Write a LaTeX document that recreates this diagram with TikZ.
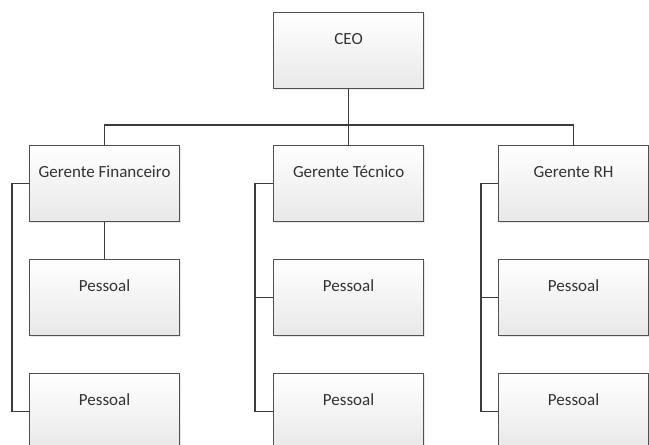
\documentclass[tikz,border=0pt]{standalone}
\usepackage{fontspec}
\setmainfont{Carlito}
\usetikzlibrary{shadows}
\definecolor{edge}{HTML}{505050}
\definecolor{wire}{HTML}{3C3C3C}
\definecolor{ink}{HTML}{333333}
\begin{document}
\begin{tikzpicture}[x=1pt,y=-1pt,
  orgbox/.style={rectangle, draw=edge, line width=1.2pt,
    top color=white, bottom color=black!9,
    minimum width=150pt, minimum height=76pt, inner sep=0pt,
    anchor=north west,
    drop shadow={shadow xshift=1.5pt, shadow yshift=-1.5pt, opacity=0.18}},
  title/.style={label={[anchor=base, yshift=-32pt, text=ink,
    font=\fontsize{17}{20}\selectfont]north:#1}},
  wire/.style={draw=wire, line width=1.2pt}]
\useasboundingbox (0,0) rectangle (649,445);

% top level
\node[orgbox, title=CEO] (ceo) at (273,12) {};

% managers
\node[orgbox, title=Gerente Financeiro] (gf)  at (29,145) {};
\node[orgbox, title=Gerente Técnico]    (gt)  at (273,145) {};
\node[orgbox, title=Gerente RH]         (grh) at (498,145) {};

% staff
\node[orgbox, title=Pessoal] (p11) at (29,259) {};
\node[orgbox, title=Pessoal] (p12) at (29,373) {};
\node[orgbox, title=Pessoal] (p21) at (273,259) {};
\node[orgbox, title=Pessoal] (p22) at (273,373) {};
\node[orgbox, title=Pessoal] (p31) at (498,259) {};
\node[orgbox, title=Pessoal] (p32) at (498,373) {};

% CEO to managers
\coordinate (bus) at (0,125);
\draw[wire] (ceo.south) -- (gt.north);
\draw[wire] (ceo.south |- bus) -| (gf.north);
\draw[wire] (ceo.south |- bus) -| (grh.north);

% managers to staff
\draw[wire] (gf.south) -- (p11.north);
\draw[wire] (gf.west) -- ++(-17,0) |- (p12.west);
\draw[wire] (gt.west) -- ++(-18,0) |- (p21.west);
\draw[wire] (gt.west) -- ++(-18,0) |- (p22.west);
\draw[wire] (grh.west) -- ++(-17,0) |- (p31.west);
\draw[wire] (grh.west) -- ++(-17,0) |- (p32.west);
\end{tikzpicture}
\end{document}
